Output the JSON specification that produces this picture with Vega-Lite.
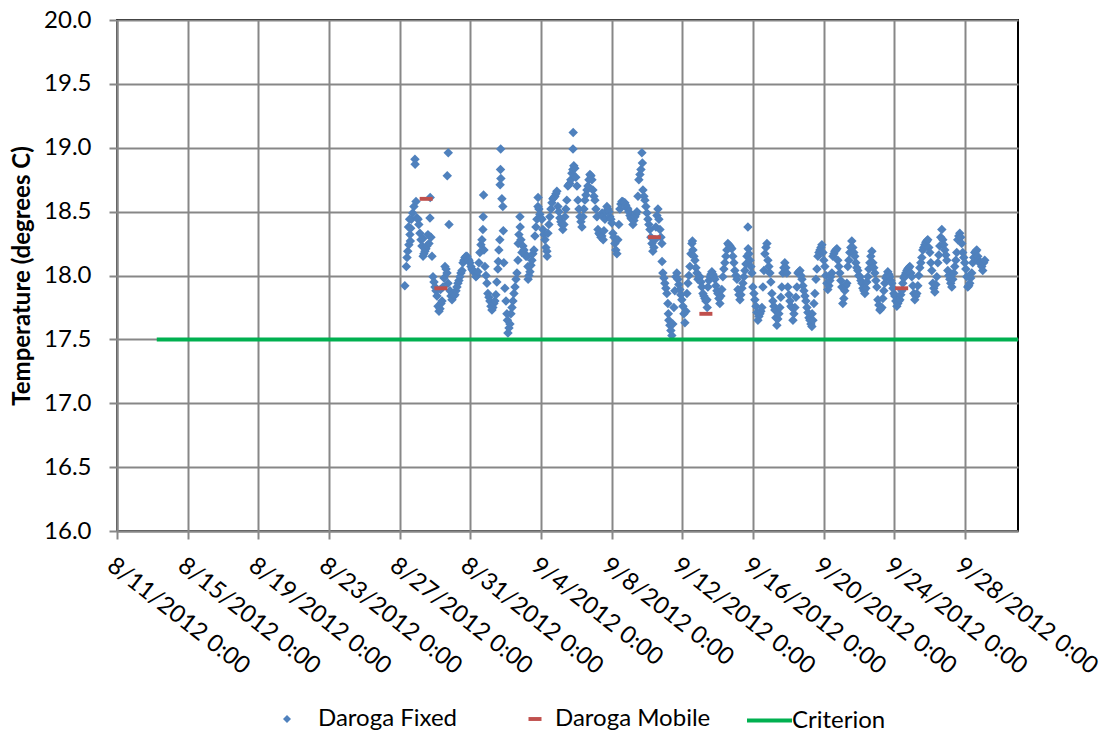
{
"$schema":"https://vega.github.io/schema/vega-lite/v6.json",
"width":901,"height":511,
"autosize":{"type":"none"},
"padding":{"left":117,"top":20,"right":86,"bottom":203},
"background":"white",
"config":{
"font":"Lato",
"view":{"stroke":"black","strokeWidth":2},
"axis":{"labelFont":"Lato","labelColor":"black","labelFontSize":24,"domainColor":"#878787","domainWidth":2,"tickColor":"#878787","tickWidth":2,"tickSize":8,"gridColor":"#878787","gridWidth":2},
"legend":{"labelFont":"Lato","labelFontSize":24,"labelColor":"black","padding":0}
},
"datasets":{
"fixed":[
{"t":"2012-08-27T07:00","v":17.92},{"t":"2012-08-27T09:00","v":18.07},{"t":"2012-08-27T10:00","v":18.14},{"t":"2012-08-27T11:00","v":18.19},{"t":"2012-08-27T12:00","v":18.38},{"t":"2012-08-27T12:30","v":18.24},{"t":"2012-08-27T13:30","v":18.44},{"t":"2012-08-27T14:00","v":18.32},{"t":"2012-08-27T14:30","v":18.27},{"t":"2012-08-27T15:00","v":18.37},{"t":"2012-08-27T16:00","v":18.44},{"t":"2012-08-27T17:40","v":18.49},{"t":"2012-08-27T19:25","v":18.54},{"t":"2012-08-27T20:45","v":18.91},{"t":"2012-08-27T21:00","v":18.87},{"t":"2012-08-27T22:10","v":18.58},{"t":"2012-08-27T23:30","v":18.45},
{"t":"2012-08-28T01:00","v":18.44},{"t":"2012-08-28T02:00","v":18.40},{"t":"2012-08-28T03:30","v":18.33},{"t":"2012-08-28T05:00","v":18.28},{"t":"2012-08-28T06:15","v":18.23},{"t":"2012-08-28T07:35","v":18.29},{"t":"2012-08-28T07:50","v":18.15},{"t":"2012-08-28T09:00","v":18.17},{"t":"2012-08-28T10:20","v":18.19},{"t":"2012-08-28T11:40","v":18.21},{"t":"2012-08-28T13:00","v":18.23},{"t":"2012-08-28T14:25","v":18.32},{"t":"2012-08-28T15:45","v":18.25},{"t":"2012-08-28T17:10","v":18.45},{"t":"2012-08-28T17:30","v":18.61},{"t":"2012-08-28T18:30","v":18.30},{"t":"2012-08-28T19:55","v":18.15},{"t":"2012-08-28T21:15","v":17.99},{"t":"2012-08-28T22:40","v":17.95},
{"t":"2012-08-29T00:00","v":17.91},{"t":"2012-08-29T01:20","v":17.88},{"t":"2012-08-29T02:40","v":17.84},{"t":"2012-08-29T04:05","v":17.76},{"t":"2012-08-29T05:25","v":17.72},{"t":"2012-08-29T06:50","v":17.74},{"t":"2012-08-29T07:30","v":17.89},{"t":"2012-08-29T08:10","v":17.78},{"t":"2012-08-29T09:30","v":17.80},{"t":"2012-08-29T10:50","v":17.91},{"t":"2012-08-29T12:15","v":17.98},{"t":"2012-08-29T13:35","v":18.07},{"t":"2012-08-29T15:00","v":18.05},{"t":"2012-08-29T16:20","v":18.02},{"t":"2012-08-29T16:40","v":18.78},{"t":"2012-08-29T17:40","v":17.94},{"t":"2012-08-29T18:00","v":18.96},{"t":"2012-08-29T19:00","v":18.40},{"t":"2012-08-29T20:25","v":17.88},{"t":"2012-08-29T21:45","v":17.84},{"t":"2012-08-29T23:05","v":17.81},
{"t":"2012-08-30T00:25","v":17.86},{"t":"2012-08-30T01:45","v":17.84},{"t":"2012-08-30T03:10","v":17.85},{"t":"2012-08-30T04:30","v":17.88},{"t":"2012-08-30T05:50","v":17.91},{"t":"2012-08-30T07:10","v":17.94},{"t":"2012-08-30T08:30","v":17.96},{"t":"2012-08-30T09:55","v":17.99},{"t":"2012-08-30T11:15","v":18.02},{"t":"2012-08-30T12:40","v":18.04},{"t":"2012-08-30T14:00","v":18.10},{"t":"2012-08-30T15:20","v":18.12},{"t":"2012-08-30T16:40","v":18.14},{"t":"2012-08-30T18:05","v":18.15},{"t":"2012-08-30T19:25","v":18.15},{"t":"2012-08-30T20:45","v":18.13},{"t":"2012-08-30T22:10","v":18.12},{"t":"2012-08-30T23:30","v":18.10},
{"t":"2012-08-31T00:50","v":18.07},{"t":"2012-08-31T02:10","v":18.05},{"t":"2012-08-31T03:30","v":18.04},{"t":"2012-08-31T04:50","v":18.03},{"t":"2012-08-31T06:15","v":18.02},{"t":"2012-08-31T07:35","v":17.99},{"t":"2012-08-31T09:00","v":18.00},{"t":"2012-08-31T10:20","v":18.03},{"t":"2012-08-31T11:40","v":18.10},{"t":"2012-08-31T13:00","v":18.18},{"t":"2012-08-31T14:25","v":18.24},{"t":"2012-08-31T15:45","v":18.28},{"t":"2012-08-31T17:05","v":18.36},{"t":"2012-08-31T17:30","v":18.46},{"t":"2012-08-31T18:00","v":18.63},{"t":"2012-08-31T18:30","v":18.20},{"t":"2012-08-31T19:50","v":18.07},{"t":"2012-08-31T21:10","v":18.00},{"t":"2012-08-31T22:35","v":17.94},{"t":"2012-08-31T23:50","v":17.86},
{"t":"2012-09-01T01:15","v":17.83},{"t":"2012-09-01T02:35","v":17.80},{"t":"2012-09-01T04:00","v":17.76},{"t":"2012-09-01T05:20","v":17.73},{"t":"2012-09-01T06:40","v":17.75},{"t":"2012-09-01T08:00","v":17.78},{"t":"2012-09-01T09:20","v":17.80},{"t":"2012-09-01T10:40","v":17.85},{"t":"2012-09-01T12:00","v":17.95},{"t":"2012-09-01T13:25","v":18.05},{"t":"2012-09-01T14:00","v":18.11},{"t":"2012-09-01T14:45","v":18.20},{"t":"2012-09-01T16:05","v":18.28},{"t":"2012-09-01T16:30","v":18.71},{"t":"2012-09-01T17:00","v":18.83},{"t":"2012-09-01T17:15","v":18.99},{"t":"2012-09-01T17:30","v":18.76},{"t":"2012-09-01T18:50","v":18.60},{"t":"2012-09-01T20:10","v":18.54},{"t":"2012-09-01T20:50","v":18.35},{"t":"2012-09-01T21:30","v":18.10},{"t":"2012-09-01T22:55","v":17.90},
{"t":"2012-09-02T00:25","v":17.80},{"t":"2012-09-02T01:45","v":17.70},{"t":"2012-09-02T02:25","v":17.65},{"t":"2012-09-02T03:05","v":17.55},{"t":"2012-09-02T04:30","v":17.59},{"t":"2012-09-02T05:50","v":17.62},{"t":"2012-09-02T07:10","v":17.70},{"t":"2012-09-02T08:35","v":17.75},{"t":"2012-09-02T09:55","v":17.80},{"t":"2012-09-02T11:15","v":17.86},{"t":"2012-09-02T12:40","v":17.91},{"t":"2012-09-02T14:00","v":17.97},{"t":"2012-09-02T15:20","v":18.02},{"t":"2012-09-02T16:40","v":18.12},{"t":"2012-09-02T17:00","v":18.25},{"t":"2012-09-02T18:00","v":18.32},{"t":"2012-09-02T19:25","v":18.46},{"t":"2012-09-02T19:45","v":18.38},{"t":"2012-09-02T20:45","v":18.28},{"t":"2012-09-02T22:05","v":18.18},{"t":"2012-09-02T23:30","v":18.23},
{"t":"2012-09-03T00:50","v":18.20},{"t":"2012-09-03T02:10","v":18.17},{"t":"2012-09-03T03:30","v":18.15},{"t":"2012-09-03T04:55","v":18.15},{"t":"2012-09-03T06:15","v":18.07},{"t":"2012-09-03T06:30","v":17.97},{"t":"2012-09-03T07:35","v":18.00},{"t":"2012-09-03T09:00","v":18.03},{"t":"2012-09-03T10:20","v":18.08},{"t":"2012-09-03T11:40","v":18.12},{"t":"2012-09-03T13:00","v":18.17},{"t":"2012-09-03T14:25","v":18.20},{"t":"2012-09-03T15:45","v":18.31},{"t":"2012-09-03T17:05","v":18.38},{"t":"2012-09-03T18:30","v":18.44},{"t":"2012-09-03T19:50","v":18.54},{"t":"2012-09-03T20:00","v":18.61},{"t":"2012-09-03T21:10","v":18.52},{"t":"2012-09-03T22:30","v":18.48},{"t":"2012-09-03T23:55","v":18.45},
{"t":"2012-09-04T01:15","v":18.44},{"t":"2012-09-04T02:35","v":18.36},{"t":"2012-09-04T04:00","v":18.32},{"t":"2012-09-04T05:20","v":18.28},{"t":"2012-09-04T06:40","v":18.22},{"t":"2012-09-04T08:00","v":18.19},{"t":"2012-09-04T08:20","v":18.15},{"t":"2012-09-04T09:25","v":18.33},{"t":"2012-09-04T10:45","v":18.40},{"t":"2012-09-04T12:05","v":18.46},{"t":"2012-09-04T13:30","v":18.52},{"t":"2012-09-04T14:50","v":18.57},{"t":"2012-09-04T16:10","v":18.60},{"t":"2012-09-04T17:30","v":18.61},{"t":"2012-09-04T18:55","v":18.62},{"t":"2012-09-04T20:15","v":18.64},{"t":"2012-09-04T21:35","v":18.66},{"t":"2012-09-04T22:55","v":18.54},
{"t":"2012-09-05T00:15","v":18.50},{"t":"2012-09-05T01:40","v":18.45},{"t":"2012-09-05T03:00","v":18.42},{"t":"2012-09-05T04:20","v":18.40},{"t":"2012-09-05T05:40","v":18.36},{"t":"2012-09-05T07:05","v":18.40},{"t":"2012-09-05T08:25","v":18.46},{"t":"2012-09-05T09:45","v":18.52},{"t":"2012-09-05T11:05","v":18.59},{"t":"2012-09-05T12:30","v":18.70},{"t":"2012-09-05T13:50","v":18.71},{"t":"2012-09-05T15:10","v":18.72},{"t":"2012-09-05T16:30","v":18.75},{"t":"2012-09-05T17:55","v":18.80},{"t":"2012-09-05T19:15","v":18.83},{"t":"2012-09-05T19:30","v":18.99},{"t":"2012-09-05T19:45","v":19.12},{"t":"2012-09-05T20:35","v":18.86},{"t":"2012-09-05T21:55","v":18.84},{"t":"2012-09-05T23:20","v":18.77},
{"t":"2012-09-06T00:50","v":18.70},{"t":"2012-09-06T02:10","v":18.59},{"t":"2012-09-06T03:30","v":18.52},{"t":"2012-09-06T04:55","v":18.46},{"t":"2012-09-06T06:15","v":18.42},{"t":"2012-09-06T07:35","v":18.38},{"t":"2012-09-06T09:00","v":18.46},{"t":"2012-09-06T10:20","v":18.52},{"t":"2012-09-06T11:40","v":18.59},{"t":"2012-09-06T13:00","v":18.63},{"t":"2012-09-06T14:25","v":18.67},{"t":"2012-09-06T15:45","v":18.70},{"t":"2012-09-06T17:05","v":18.75},{"t":"2012-09-06T18:30","v":18.79},{"t":"2012-09-06T19:50","v":18.78},{"t":"2012-09-06T21:10","v":18.75},{"t":"2012-09-06T22:30","v":18.67},{"t":"2012-09-06T23:55","v":18.62},
{"t":"2012-09-07T01:15","v":18.59},{"t":"2012-09-07T02:35","v":18.52},{"t":"2012-09-07T04:00","v":18.46},{"t":"2012-09-07T05:20","v":18.36},{"t":"2012-09-07T06:40","v":18.33},{"t":"2012-09-07T08:00","v":18.32},{"t":"2012-09-07T09:25","v":18.30},{"t":"2012-09-07T10:45","v":18.31},{"t":"2012-09-07T11:00","v":18.49},{"t":"2012-09-07T12:05","v":18.46},{"t":"2012-09-07T12:30","v":18.28},{"t":"2012-09-07T13:30","v":18.35},{"t":"2012-09-07T14:50","v":18.44},{"t":"2012-09-07T16:10","v":18.50},{"t":"2012-09-07T17:35","v":18.54},{"t":"2012-09-07T18:55","v":18.52},{"t":"2012-09-07T20:15","v":18.50},{"t":"2012-09-07T21:35","v":18.46},{"t":"2012-09-07T23:00","v":18.44},
{"t":"2012-09-08T00:15","v":18.41},{"t":"2012-09-08T01:40","v":18.33},{"t":"2012-09-08T03:00","v":18.30},{"t":"2012-09-08T04:20","v":18.25},{"t":"2012-09-08T05:40","v":18.20},{"t":"2012-09-08T07:05","v":18.17},{"t":"2012-09-08T08:25","v":18.28},{"t":"2012-09-08T09:45","v":18.40},{"t":"2012-09-08T11:10","v":18.52},{"t":"2012-09-08T12:30","v":18.56},{"t":"2012-09-08T13:50","v":18.58},{"t":"2012-09-08T15:10","v":18.58},{"t":"2012-09-08T16:35","v":18.57},{"t":"2012-09-08T17:55","v":18.57},{"t":"2012-09-08T19:15","v":18.55},{"t":"2012-09-08T20:35","v":18.53},{"t":"2012-09-08T22:00","v":18.52},{"t":"2012-09-08T23:20","v":18.50},
{"t":"2012-09-09T00:50","v":18.47},{"t":"2012-09-09T02:10","v":18.45},{"t":"2012-09-09T03:30","v":18.44},{"t":"2012-09-09T04:55","v":18.40},{"t":"2012-09-09T06:15","v":18.43},{"t":"2012-09-09T07:35","v":18.46},{"t":"2012-09-09T09:00","v":18.48},{"t":"2012-09-09T10:20","v":18.50},{"t":"2012-09-09T11:40","v":18.62},{"t":"2012-09-09T13:00","v":18.75},{"t":"2012-09-09T14:25","v":18.79},{"t":"2012-09-09T15:45","v":18.83},{"t":"2012-09-09T17:05","v":18.96},{"t":"2012-09-09T17:45","v":18.88},{"t":"2012-09-09T18:30","v":18.67},{"t":"2012-09-09T19:50","v":18.62},{"t":"2012-09-09T21:10","v":18.59},{"t":"2012-09-09T22:30","v":18.54},{"t":"2012-09-09T23:55","v":18.49},
{"t":"2012-09-10T01:15","v":18.44},{"t":"2012-09-10T02:35","v":18.40},{"t":"2012-09-10T04:00","v":18.36},{"t":"2012-09-10T05:20","v":18.30},{"t":"2012-09-10T06:40","v":18.25},{"t":"2012-09-10T08:00","v":18.19},{"t":"2012-09-10T09:25","v":18.22},{"t":"2012-09-10T10:45","v":18.28},{"t":"2012-09-10T12:05","v":18.38},{"t":"2012-09-10T13:30","v":18.47},{"t":"2012-09-10T14:50","v":18.52},{"t":"2012-09-10T16:10","v":18.44},{"t":"2012-09-10T17:35","v":18.36},{"t":"2012-09-10T18:55","v":18.30},{"t":"2012-09-10T20:15","v":18.25},{"t":"2012-09-10T20:30","v":18.11},{"t":"2012-09-10T21:35","v":18.02},{"t":"2012-09-10T23:00","v":17.98},
{"t":"2012-09-11T00:15","v":17.94},{"t":"2012-09-11T01:40","v":17.90},{"t":"2012-09-11T03:00","v":17.86},{"t":"2012-09-11T04:20","v":17.78},{"t":"2012-09-11T05:00","v":17.70},{"t":"2012-09-11T05:40","v":17.65},{"t":"2012-09-11T07:05","v":17.61},{"t":"2012-09-11T08:25","v":17.57},{"t":"2012-09-11T09:45","v":17.53},{"t":"2012-09-11T11:05","v":17.62},{"t":"2012-09-11T12:30","v":17.75},{"t":"2012-09-11T13:50","v":17.88},{"t":"2012-09-11T15:10","v":17.99},{"t":"2012-09-11T16:30","v":18.02},{"t":"2012-09-11T17:55","v":17.97},{"t":"2012-09-11T19:15","v":17.93},{"t":"2012-09-11T20:35","v":17.89},{"t":"2012-09-11T21:55","v":17.85},{"t":"2012-09-11T23:20","v":17.81},
{"t":"2012-09-12T00:50","v":17.76},{"t":"2012-09-12T02:10","v":17.70},{"t":"2012-09-12T03:30","v":17.63},{"t":"2012-09-12T04:55","v":17.72},{"t":"2012-09-12T06:15","v":17.86},{"t":"2012-09-12T07:35","v":17.94},{"t":"2012-09-12T09:00","v":18.00},{"t":"2012-09-12T10:20","v":18.07},{"t":"2012-09-12T11:40","v":18.17},{"t":"2012-09-12T13:00","v":18.25},{"t":"2012-09-12T13:45","v":18.27},{"t":"2012-09-12T14:25","v":18.20},{"t":"2012-09-12T15:45","v":18.15},{"t":"2012-09-12T17:05","v":18.12},{"t":"2012-09-12T18:30","v":18.06},{"t":"2012-09-12T19:50","v":18.02},{"t":"2012-09-12T21:10","v":17.97},{"t":"2012-09-12T22:35","v":17.98},{"t":"2012-09-12T23:50","v":17.99},
{"t":"2012-09-13T01:15","v":17.95},{"t":"2012-09-13T02:35","v":17.91},{"t":"2012-09-13T04:00","v":17.86},{"t":"2012-09-13T05:20","v":17.84},{"t":"2012-09-13T06:40","v":17.82},{"t":"2012-09-13T08:00","v":17.80},{"t":"2012-09-13T09:25","v":17.81},{"t":"2012-09-13T09:45","v":17.75},{"t":"2012-09-13T10:45","v":17.91},{"t":"2012-09-13T12:05","v":17.96},{"t":"2012-09-13T13:30","v":17.99},{"t":"2012-09-13T14:50","v":18.01},{"t":"2012-09-13T16:10","v":18.03},{"t":"2012-09-13T17:35","v":18.01},{"t":"2012-09-13T18:55","v":17.99},{"t":"2012-09-13T20:15","v":17.97},{"t":"2012-09-13T21:35","v":17.92},{"t":"2012-09-13T23:00","v":17.88},
{"t":"2012-09-14T00:15","v":17.86},{"t":"2012-09-14T01:40","v":17.82},{"t":"2012-09-14T03:00","v":17.78},{"t":"2012-09-14T04:20","v":17.84},{"t":"2012-09-14T05:40","v":17.89},{"t":"2012-09-14T07:05","v":17.99},{"t":"2012-09-14T08:25","v":18.05},{"t":"2012-09-14T09:45","v":18.10},{"t":"2012-09-14T11:10","v":18.15},{"t":"2012-09-14T12:30","v":18.20},{"t":"2012-09-14T13:50","v":18.25},{"t":"2012-09-14T15:10","v":18.24},{"t":"2012-09-14T16:35","v":18.23},{"t":"2012-09-14T17:55","v":18.22},{"t":"2012-09-14T19:15","v":18.21},{"t":"2012-09-14T20:35","v":18.15},{"t":"2012-09-14T22:00","v":18.10},{"t":"2012-09-14T23:20","v":18.04},
{"t":"2012-09-15T00:50","v":18.00},{"t":"2012-09-15T02:10","v":17.97},{"t":"2012-09-15T03:30","v":17.89},{"t":"2012-09-15T04:55","v":17.85},{"t":"2012-09-15T06:15","v":17.81},{"t":"2012-09-15T07:35","v":17.85},{"t":"2012-09-15T09:00","v":17.90},{"t":"2012-09-15T10:20","v":17.94},{"t":"2012-09-15T11:40","v":17.99},{"t":"2012-09-15T13:00","v":18.04},{"t":"2012-09-15T14:25","v":18.09},{"t":"2012-09-15T15:45","v":18.15},{"t":"2012-09-15T17:05","v":18.38},{"t":"2012-09-15T17:30","v":18.21},{"t":"2012-09-15T18:30","v":18.17},{"t":"2012-09-15T19:50","v":18.12},{"t":"2012-09-15T21:10","v":18.07},{"t":"2012-09-15T22:35","v":18.02},{"t":"2012-09-15T23:50","v":17.91},
{"t":"2012-09-16T01:15","v":17.86},{"t":"2012-09-16T02:35","v":17.81},{"t":"2012-09-16T04:00","v":17.76},{"t":"2012-09-16T05:20","v":17.71},{"t":"2012-09-16T06:40","v":17.65},{"t":"2012-09-16T08:00","v":17.68},{"t":"2012-09-16T09:25","v":17.70},{"t":"2012-09-16T10:45","v":17.72},{"t":"2012-09-16T12:05","v":17.75},{"t":"2012-09-16T13:30","v":17.91},{"t":"2012-09-16T14:50","v":18.04},{"t":"2012-09-16T16:10","v":18.17},{"t":"2012-09-16T17:35","v":18.22},{"t":"2012-09-16T18:55","v":18.25},{"t":"2012-09-16T20:15","v":18.12},{"t":"2012-09-16T21:35","v":18.07},{"t":"2012-09-16T23:00","v":18.02},
{"t":"2012-09-17T00:15","v":17.95},{"t":"2012-09-17T01:40","v":17.86},{"t":"2012-09-17T03:00","v":17.80},{"t":"2012-09-17T04:20","v":17.76},{"t":"2012-09-17T05:40","v":17.73},{"t":"2012-09-17T07:05","v":17.67},{"t":"2012-09-17T08:25","v":17.61},{"t":"2012-09-17T09:45","v":17.66},{"t":"2012-09-17T11:10","v":17.70},{"t":"2012-09-17T12:30","v":17.75},{"t":"2012-09-17T13:50","v":17.83},{"t":"2012-09-17T15:10","v":17.91},{"t":"2012-09-17T16:35","v":18.02},{"t":"2012-09-17T17:55","v":18.06},{"t":"2012-09-17T19:15","v":18.10},{"t":"2012-09-17T20:35","v":18.06},{"t":"2012-09-17T22:00","v":18.02},{"t":"2012-09-17T23:20","v":17.91},
{"t":"2012-09-18T00:50","v":17.85},{"t":"2012-09-18T02:10","v":17.80},{"t":"2012-09-18T03:30","v":17.76},{"t":"2012-09-18T04:55","v":17.75},{"t":"2012-09-18T06:15","v":17.65},{"t":"2012-09-18T07:35","v":17.70},{"t":"2012-09-18T09:00","v":17.75},{"t":"2012-09-18T10:20","v":17.83},{"t":"2012-09-18T11:40","v":17.91},{"t":"2012-09-18T13:00","v":18.02},{"t":"2012-09-18T14:25","v":18.03},{"t":"2012-09-18T15:45","v":18.04},{"t":"2012-09-18T17:05","v":18.00},{"t":"2012-09-18T18:30","v":17.97},{"t":"2012-09-18T19:50","v":17.92},{"t":"2012-09-18T21:10","v":17.88},{"t":"2012-09-18T22:35","v":17.84},{"t":"2012-09-18T23:50","v":17.80},
{"t":"2012-09-19T01:15","v":17.75},{"t":"2012-09-19T02:35","v":17.71},{"t":"2012-09-19T04:00","v":17.67},{"t":"2012-09-19T05:20","v":17.65},{"t":"2012-09-19T06:40","v":17.62},{"t":"2012-09-19T08:00","v":17.60},{"t":"2012-09-19T08:20","v":17.70},{"t":"2012-09-19T09:25","v":17.65},{"t":"2012-09-19T10:45","v":17.78},{"t":"2012-09-19T12:05","v":17.86},{"t":"2012-09-19T13:30","v":17.97},{"t":"2012-09-19T14:50","v":18.05},{"t":"2012-09-19T16:10","v":18.15},{"t":"2012-09-19T17:35","v":18.18},{"t":"2012-09-19T18:55","v":18.20},{"t":"2012-09-19T20:15","v":18.22},{"t":"2012-09-19T21:35","v":18.24},{"t":"2012-09-19T23:00","v":18.18},
{"t":"2012-09-20T00:15","v":18.12},{"t":"2012-09-20T01:40","v":18.07},{"t":"2012-09-20T03:00","v":18.00},{"t":"2012-09-20T04:20","v":17.94},{"t":"2012-09-20T05:40","v":17.89},{"t":"2012-09-20T07:05","v":17.92},{"t":"2012-09-20T08:25","v":17.96},{"t":"2012-09-20T09:45","v":17.99},{"t":"2012-09-20T11:10","v":18.02},{"t":"2012-09-20T12:30","v":18.15},{"t":"2012-09-20T13:50","v":18.17},{"t":"2012-09-20T15:10","v":18.19},{"t":"2012-09-20T16:35","v":18.20},{"t":"2012-09-20T17:55","v":18.21},{"t":"2012-09-20T19:15","v":18.12},{"t":"2012-09-20T20:35","v":18.07},{"t":"2012-09-20T22:00","v":18.02},{"t":"2012-09-20T23:20","v":17.96},
{"t":"2012-09-21T00:40","v":17.91},{"t":"2012-09-21T02:00","v":17.78},{"t":"2012-09-21T03:25","v":17.82},{"t":"2012-09-21T04:45","v":17.88},{"t":"2012-09-21T06:05","v":17.92},{"t":"2012-09-21T07:30","v":17.94},{"t":"2012-09-21T08:50","v":18.07},{"t":"2012-09-21T10:10","v":18.12},{"t":"2012-09-21T11:30","v":18.18},{"t":"2012-09-21T12:55","v":18.22},{"t":"2012-09-21T14:15","v":18.27},{"t":"2012-09-21T15:35","v":18.22},{"t":"2012-09-21T17:00","v":18.18},{"t":"2012-09-21T18:20","v":18.15},{"t":"2012-09-21T19:40","v":18.10},{"t":"2012-09-21T21:00","v":18.06},{"t":"2012-09-21T22:25","v":18.04},{"t":"2012-09-21T23:45","v":18.00},
{"t":"2012-09-22T01:15","v":17.99},{"t":"2012-09-22T02:35","v":17.96},{"t":"2012-09-22T03:55","v":17.94},{"t":"2012-09-22T05:15","v":17.90},{"t":"2012-09-22T06:40","v":17.88},{"t":"2012-09-22T08:00","v":17.86},{"t":"2012-09-22T09:20","v":17.90},{"t":"2012-09-22T10:40","v":17.95},{"t":"2012-09-22T12:05","v":17.99},{"t":"2012-09-22T13:25","v":18.05},{"t":"2012-09-22T14:45","v":18.10},{"t":"2012-09-22T16:05","v":18.15},{"t":"2012-09-22T17:30","v":18.19},{"t":"2012-09-22T18:50","v":18.10},{"t":"2012-09-22T20:10","v":18.06},{"t":"2012-09-22T21:30","v":18.02},{"t":"2012-09-22T22:55","v":17.96},
{"t":"2012-09-23T00:15","v":17.91},{"t":"2012-09-23T01:40","v":17.81},{"t":"2012-09-23T03:00","v":17.77},{"t":"2012-09-23T04:20","v":17.73},{"t":"2012-09-23T05:40","v":17.74},{"t":"2012-09-23T07:05","v":17.75},{"t":"2012-09-23T08:25","v":17.82},{"t":"2012-09-23T09:45","v":17.88},{"t":"2012-09-23T11:05","v":17.94},{"t":"2012-09-23T12:30","v":17.98},{"t":"2012-09-23T13:50","v":18.00},{"t":"2012-09-23T15:10","v":18.03},{"t":"2012-09-23T16:35","v":18.01},{"t":"2012-09-23T17:55","v":17.99},{"t":"2012-09-23T19:15","v":17.96},{"t":"2012-09-23T20:35","v":17.94},{"t":"2012-09-23T22:00","v":17.90},{"t":"2012-09-23T23:20","v":17.86},
{"t":"2012-09-24T00:40","v":17.84},{"t":"2012-09-24T02:00","v":17.80},{"t":"2012-09-24T03:25","v":17.76},{"t":"2012-09-24T04:45","v":17.78},{"t":"2012-09-24T06:05","v":17.80},{"t":"2012-09-24T07:30","v":17.81},{"t":"2012-09-24T08:50","v":17.85},{"t":"2012-09-24T10:10","v":17.88},{"t":"2012-09-24T11:30","v":17.94},{"t":"2012-09-24T12:55","v":17.98},{"t":"2012-09-24T14:15","v":18.00},{"t":"2012-09-24T15:35","v":18.02},{"t":"2012-09-24T17:00","v":18.04},{"t":"2012-09-24T18:20","v":18.05},{"t":"2012-09-24T19:40","v":18.06},{"t":"2012-09-24T21:00","v":18.07},{"t":"2012-09-24T22:25","v":18.02},{"t":"2012-09-24T23:45","v":17.99},
{"t":"2012-09-25T01:10","v":17.92},{"t":"2012-09-25T02:30","v":17.86},{"t":"2012-09-25T03:50","v":17.81},{"t":"2012-09-25T05:10","v":17.84},{"t":"2012-09-25T06:35","v":17.86},{"t":"2012-09-25T07:55","v":17.92},{"t":"2012-09-25T09:15","v":18.00},{"t":"2012-09-25T10:35","v":18.06},{"t":"2012-09-25T12:00","v":18.10},{"t":"2012-09-25T13:20","v":18.14},{"t":"2012-09-25T14:40","v":18.20},{"t":"2012-09-25T16:00","v":18.22},{"t":"2012-09-25T17:25","v":18.24},{"t":"2012-09-25T18:45","v":18.26},{"t":"2012-09-25T20:05","v":18.27},{"t":"2012-09-25T21:25","v":18.28},{"t":"2012-09-25T22:50","v":18.22},
{"t":"2012-09-26T00:15","v":18.18},{"t":"2012-09-26T01:35","v":18.10},{"t":"2012-09-26T02:55","v":18.04},{"t":"2012-09-26T04:15","v":17.94},{"t":"2012-09-26T05:40","v":17.90},{"t":"2012-09-26T07:00","v":17.87},{"t":"2012-09-26T08:20","v":17.93},{"t":"2012-09-26T09:40","v":17.99},{"t":"2012-09-26T11:05","v":18.10},{"t":"2012-09-26T12:25","v":18.16},{"t":"2012-09-26T13:45","v":18.23},{"t":"2012-09-26T15:05","v":18.30},{"t":"2012-09-26T16:30","v":18.36},{"t":"2012-09-26T17:50","v":18.28},{"t":"2012-09-26T19:10","v":18.24},{"t":"2012-09-26T20:30","v":18.20},{"t":"2012-09-26T21:55","v":18.16},{"t":"2012-09-26T23:15","v":18.12},
{"t":"2012-09-27T00:40","v":18.04},{"t":"2012-09-27T02:00","v":18.00},{"t":"2012-09-27T03:20","v":17.97},{"t":"2012-09-27T04:40","v":17.94},{"t":"2012-09-27T06:05","v":17.91},{"t":"2012-09-27T07:25","v":17.97},{"t":"2012-09-27T08:45","v":18.02},{"t":"2012-09-27T10:05","v":18.07},{"t":"2012-09-27T11:30","v":18.12},{"t":"2012-09-27T12:50","v":18.18},{"t":"2012-09-27T14:10","v":18.28},{"t":"2012-09-27T15:30","v":18.31},{"t":"2012-09-27T16:55","v":18.33},{"t":"2012-09-27T18:15","v":18.30},{"t":"2012-09-27T19:35","v":18.25},{"t":"2012-09-27T20:55","v":18.18},{"t":"2012-09-27T22:20","v":18.14},{"t":"2012-09-27T23:40","v":18.10},
{"t":"2012-09-28T01:05","v":18.05},{"t":"2012-09-28T02:25","v":17.99},{"t":"2012-09-28T03:45","v":17.91},{"t":"2012-09-28T05:05","v":17.92},{"t":"2012-09-28T06:30","v":17.94},{"t":"2012-09-28T07:50","v":17.98},{"t":"2012-09-28T09:10","v":18.02},{"t":"2012-09-28T10:30","v":18.10},{"t":"2012-09-28T11:55","v":18.14},{"t":"2012-09-28T13:15","v":18.18},{"t":"2012-09-28T14:35","v":18.19},{"t":"2012-09-28T16:00","v":18.20},{"t":"2012-09-28T17:20","v":18.15},{"t":"2012-09-28T18:40","v":18.12},{"t":"2012-09-28T20:00","v":18.10},{"t":"2012-09-28T21:25","v":18.09},{"t":"2012-09-28T22:45","v":18.07},
{"t":"2012-09-29T00:05","v":18.04},{"t":"2012-09-29T01:25","v":18.10},{"t":"2012-09-29T02:50","v":18.12}
],
"mobile":[
{"t":"2012-08-28T12:00","v":18.6},{"t":"2012-08-29T08:00","v":17.9},{"t":"2012-09-10T10:00","v":18.3},{"t":"2012-09-13T08:00","v":17.7},{"t":"2012-09-24T10:00","v":17.9}
],
"criterion":[
{"t":"2012-08-13T06:00","v":17.5},{"t":"2012-10-01T00:00","v":17.5}
]
},
"encoding":{
"x":{"field":"t","type":"temporal",
"scale":{"domain":[{"year":2012,"month":8,"date":11},{"year":2012,"month":10,"date":1}]},
"axis":{"title":null,"grid":true,"format":"%-m/%-d/%Y %-H:%M","labelAngle":38,"labelAlign":"left","labelBaseline":"top","labelPadding":14,"labelDx":6,"labelFlush":false,"labelOverlap":false,"labelBound":false,
"values":[{"year":2012,"month":8,"date":11},{"year":2012,"month":8,"date":15},{"year":2012,"month":8,"date":19},{"year":2012,"month":8,"date":23},{"year":2012,"month":8,"date":27},{"year":2012,"month":8,"date":31},{"year":2012,"month":9,"date":4},{"year":2012,"month":9,"date":8},{"year":2012,"month":9,"date":12},{"year":2012,"month":9,"date":16},{"year":2012,"month":9,"date":20},{"year":2012,"month":9,"date":24},{"year":2012,"month":9,"date":28}]}},
"y":{"field":"v","type":"quantitative",
"scale":{"domain":[16,20],"nice":false,"zero":false},
"axis":{"title":"Temperature (degrees C)","titleFontSize":24,"titleFontWeight":"bold","titleColor":"black","titleFont":"Lato","titlePadding":9,"grid":true,"values":[16,16.5,17,17.5,18,18.5,19,19.5,20],"format":".1f","labelPadding":18}}
},
"layer":[
{"data":{"name":"fixed"},
"mark":{"type":"point","shape":"diamond","filled":true,"size":90,"opacity":1},
"encoding":{"color":{"datum":"Daroga Fixed","type":"nominal","scale":{"domain":["Daroga Fixed"],"range":["#4F81BD"]},
"legend":{"title":null,"orient":"none","legendX":158,"legendY":687,"symbolType":"diamond","symbolSize":64,"symbolStrokeWidth":0,"labelOffset":19}}}},
{"data":{"name":"mobile"},
"mark":{"type":"point","shape":"M-1,-0.3H1V0.3H-1Z","filled":true,"size":169,"opacity":1},
"encoding":{"color":{"datum":"Daroga Mobile","type":"nominal","scale":{"domain":["Daroga Mobile"],"range":["#C0504D"]},
"legend":{"title":null,"orient":"none","legendX":406,"legendY":687,"symbolType":"M-1,-0.3H1V0.3H-1Z","symbolSize":169,"symbolStrokeWidth":0,"labelOffset":8}}}},
{"data":{"name":"criterion"},
"mark":{"type":"line","strokeWidth":4},
"encoding":{"color":{"datum":"Criterion","type":"nominal","scale":{"domain":["Criterion"],"range":["#00B050"]},
"legend":{"title":null,"orient":"none","legendX":628,"legendY":676,"symbolType":"stroke","symbolSize":2025,"symbolStrokeWidth":4,"labelOffset":-2}}}}
],
"resolve":{"scale":{"color":"independent"}}
}
